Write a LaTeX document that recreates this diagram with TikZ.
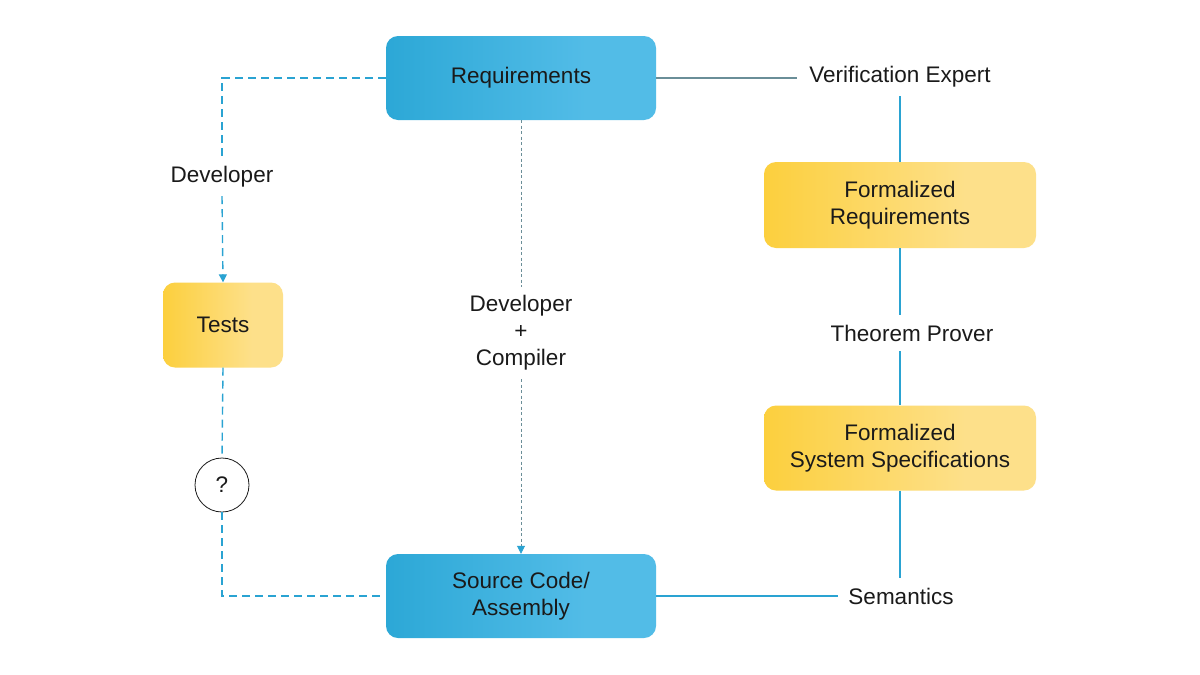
\documentclass[tikz,border=0pt]{standalone}
\usepackage{fontspec}
\setmainfont{Liberation Sans}
\usetikzlibrary{arrows.meta}
\definecolor{bL}{HTML}{27A5D4}
\definecolor{bR}{HTML}{52BCE7}
\definecolor{yL}{HTML}{FCCD33}
\definecolor{yR}{HTML}{FDE08A}
\definecolor{lineblue}{HTML}{2AA3D2}
\definecolor{linegray}{HTML}{6A8E98}
\definecolor{txt}{HTML}{1A1A1A}
\pgfdeclarehorizontalshading{blueshade}{100bp}{color(0bp)=(bL); color(20bp)=(bL); color(62bp)=(bR); color(100bp)=(bR)}
\pgfdeclarehorizontalshading{yellowshade}{100bp}{color(0bp)=(yL); color(20bp)=(yL); color(62bp)=(yR); color(100bp)=(yR)}
\begin{document}
\begin{tikzpicture}[x=1pt,y=-1pt,
  every node/.style={font=\fontsize{22.5}{27}\selectfont, text=txt},
  bluebox/.style={rounded corners=12pt, shading=blueshade, minimum width=270pt, minimum height=84pt, align=center, inner sep=0pt},
  yellowbox/.style={rounded corners=12pt, shading=yellowshade, minimum height=85pt, align=center, inner sep=0pt},
  lbl/.style={align=center, inner sep=0pt},
  bdash/.style={draw=lineblue, line width=1.4pt, dash pattern=on 8pt off 5pt},
  gdash/.style={draw=linegray, line width=0.8pt, dash pattern=on 3pt off 2.5pt},
  solidb/.style={draw=lineblue, line width=1.4pt},
  solidg/.style={draw=linegray, line width=1.4pt},
  tip/.style={-{Triangle[length=8pt,width=8pt,fill=lineblue,color=lineblue]}}
]
\useasboundingbox (0,0) rectangle (1200,675);
\fill[white] (0,0) rectangle (1200,675);

\node[bluebox] (req) at (521,78) {Requirements};
\node[bluebox] (src) at (521,596) {Source Code/\\Assembly};
\node[yellowbox, minimum width=120pt] (tests) at (223,325) {Tests};
\node[yellowbox, minimum width=272pt, minimum height=86pt] (freq) at (900,205) {Formalized\\Requirements};
\node[yellowbox, minimum width=272pt] (fsys) at (900,448) {Formalized\\System Specifications};
\node[circle, draw=txt, line width=0.8pt, minimum size=54pt, inner sep=0pt, fill=white] (q) at (222,485) {?};

\node[lbl, minimum height=38pt] (dev) at (222,177) {Developer};
\node[lbl, minimum height=92pt] (devc) at (521,333) {Developer\\+\\Compiler};
\node[lbl, minimum height=38pt, minimum width=206pt] (ve) at (900,77) {Verification Expert};
\node[lbl, minimum height=36pt] (tp) at (912,333) {Theorem Prover};
\node[lbl, minimum height=36pt, minimum width=126pt] (sem) at (901,596) {Semantics};

\coordinate (c1) at (222,78);
\coordinate (c2) at (222,596);

% left dashed path
\draw[bdash] (req.west) -- (c1) -- (dev.north);
\draw[bdash, tip] (dev.south) -- (tests.north);
\draw[bdash] (tests.south) -- (q.north);
\draw[bdash, shorten >=6pt] (q.south) -- (c2) -- (src.west);

% middle dashed
\draw[gdash] (req.south) -- (devc.north);
\draw[gdash, tip] (devc.south) -- (src.north);

% right solid
\draw[solidg] (req.east) -- (req.east -| ve.west);
\draw[solidb] (ve.south) -- (freq.north);
\draw[solidb] (freq.south) -- (freq.south |- tp.north);
\draw[solidb] (freq.south |- tp.south) -- (fsys.north);
\draw[solidb] (fsys.south) -- (fsys.south |- sem.north);
\draw[solidb] (src.east) -- (src.east -| sem.west);
\end{tikzpicture}
\end{document}
